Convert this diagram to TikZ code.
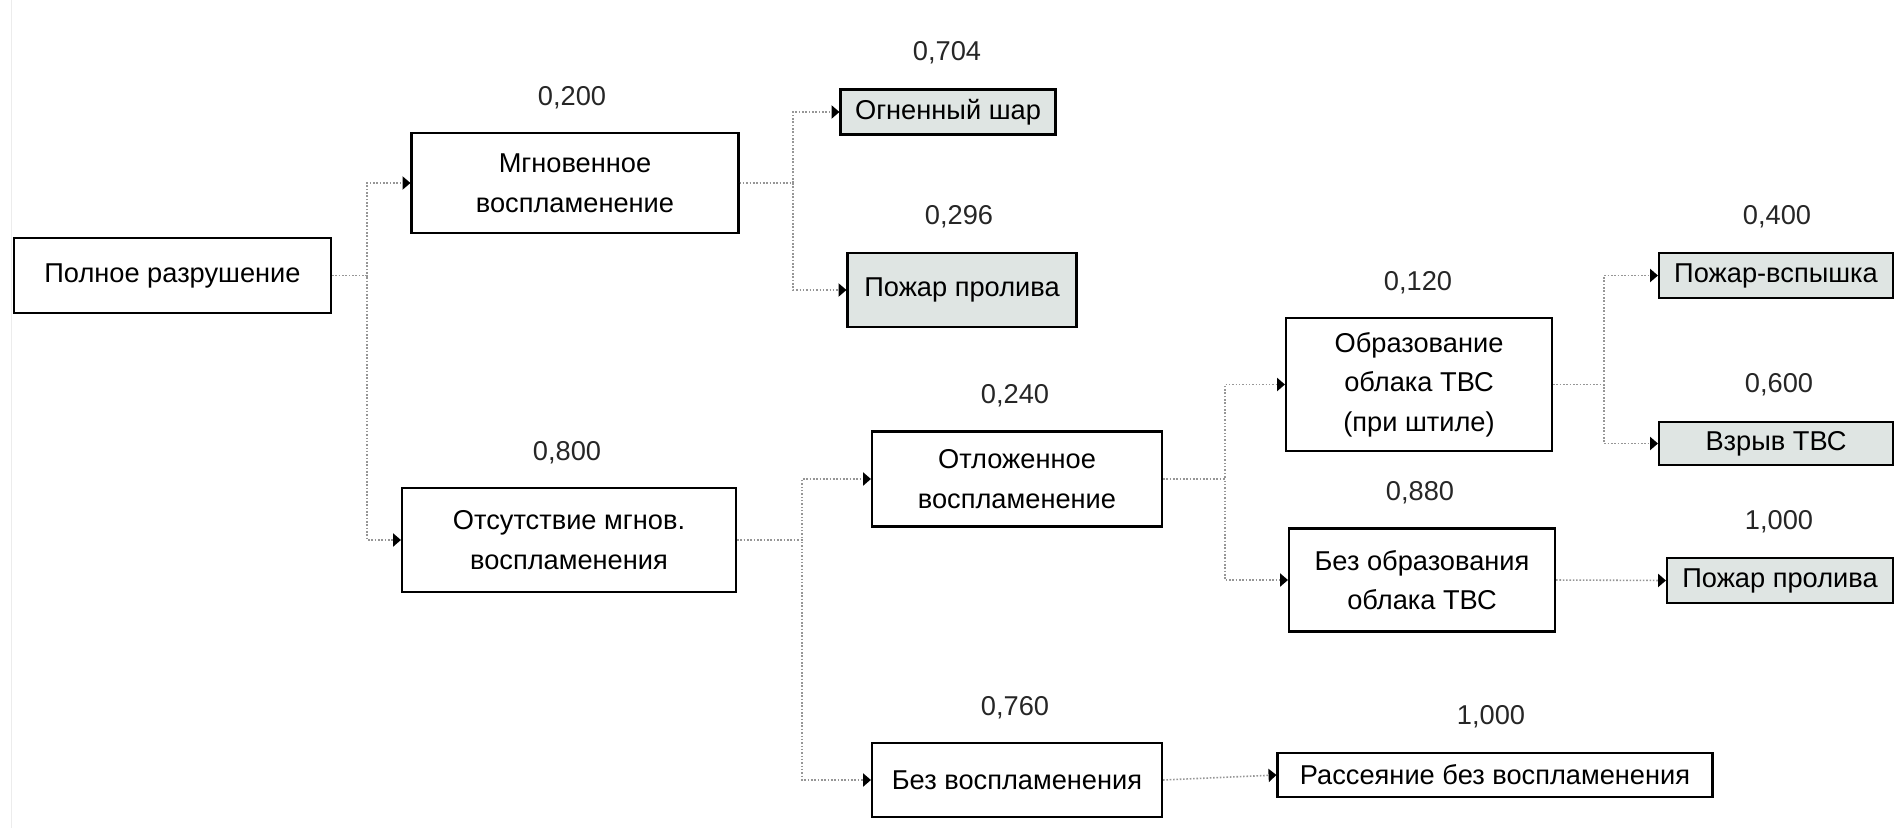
\documentclass[tikz,border=0pt]{standalone}
\usepackage{fontspec}
\setmainfont{Liberation Sans}
\usepackage{xcolor}
\usepackage{tikz}
\usetikzlibrary{arrows.meta}

\definecolor{endfill}{RGB}{223,229,227}
\definecolor{linkgray}{RGB}{150,150,150}

\begin{document}
\begin{tikzpicture}[x=0.2mm, y=-0.2mm,
  every node/.style={font=\fontsize{15.5}{22.5}\selectfont},
  box/.style={draw, line width=1.2pt, align=center, inner sep=0pt},
  endbox/.style={box, fill=endfill},
  prob/.style={text=black!85},
  link/.style={linkgray, densely dotted, line width=0.9pt,
    -{Triangle[length=4.5pt,width=7.5pt,color=black]}}]
\useasboundingbox (0,0) rectangle (1898,828);
\draw[gray!15] (11,0) -- (11,828);
% events
\node[box, minimum width=63.4mm, minimum height=15mm] (root) at (172.5,275.5) {Полное разрушение};
\node[box, minimum width=65.4mm, minimum height=20mm] (inst) at (575,183) {Мгновенное\\воспламенение};
\node[box, minimum width=66.8mm, minimum height=20.8mm] (noinst) at (569,540) {Отсутствие мгнов.\\воспламенения};
\node[box, minimum width=58mm, minimum height=19mm] (delayed) at (1017,479) {Отложенное\\воспламенение};
\node[box, minimum width=58mm, minimum height=14.8mm] (noign) at (1017,780) {Без воспламенения};
\node[box, minimum width=53.2mm, minimum height=26.6mm] (cloud) at (1419,384.5) {Образование\\облака ТВС\\(при штиле)};
\node[box, minimum width=53.2mm, minimum height=20.6mm] (nocloud) at (1422,580) {Без образования\\облака ТВС};
% outcomes
\node[endbox, minimum width=43mm, minimum height=9mm] (ball) at (948,112) {Огненный шар};
\node[endbox, minimum width=45.8mm, minimum height=14.8mm] (pool1) at (962,290) {Пожар пролива};
\node[endbox, minimum width=46.8mm, minimum height=9mm] (flash) at (1776,275.5) {Пожар-вспышка};
\node[endbox, minimum width=46.8mm, minimum height=8.6mm] (expl) at (1776,443.5) {Взрыв ТВС};
\node[endbox, minimum width=45.2mm, minimum height=9mm] (pool2) at (1780,580.5) {Пожар пролива};
\node[box, minimum width=87mm, minimum height=8.8mm] (disp) at (1495,775) {Рассеяние без воспламенения};
% probabilities
\node[prob] (p-inst) at (572,98) {0,200};
\node[prob] (p-noinst) at (567,453) {0,800};
\node[prob] (p-ball) at (947,53) {0,704};
\node[prob] (p-pool1) at (959,217) {0,296};
\node[prob] (p-delayed) at (1015,396) {0,240};
\node[prob] (p-noign) at (1015,708) {0,760};
\node[prob] (p-cloud) at (1418,283) {0,120};
\node[prob] (p-nocloud) at (1420,493) {0,880};
\node[prob] (p-flash) at (1777,217) {0,400};
\node[prob] (p-expl) at (1779,385) {0,600};
\node[prob] (p-pool2) at (1779,522) {1,000};
\node[prob] (p-disp) at (1491,717) {1,000};
% connectors
\coordinate (j0) at (367,275.5);
\coordinate (j1) at (793,183);
\coordinate (j2) at (802,540);
\coordinate (j3) at (1225,479);
\coordinate (j4) at (1604,384.5);
\draw[link] (root.east) -- (j0) |- (inst.west);
\draw[link] (root.east) -- (j0) |- (noinst.west);
\draw[link] (inst.east) -- (j1) |- (ball.west);
\draw[link] (inst.east) -- (j1) |- (pool1.west);
\draw[link] (noinst.east) -- (j2) |- (delayed.west);
\draw[link] (noinst.east) -- (j2) |- (noign.west);
\draw[link] (delayed.east) -- (j3) |- (cloud.west);
\draw[link] (delayed.east) -- (j3) |- (nocloud.west);
\draw[link] (cloud.east) -- (j4) |- (flash.west);
\draw[link] (cloud.east) -- (j4) |- (expl.west);
\draw[link] (nocloud.east) -- (pool2.west);
\draw[link] (noign.east) -- (disp.west);
\end{tikzpicture}
\end{document}
